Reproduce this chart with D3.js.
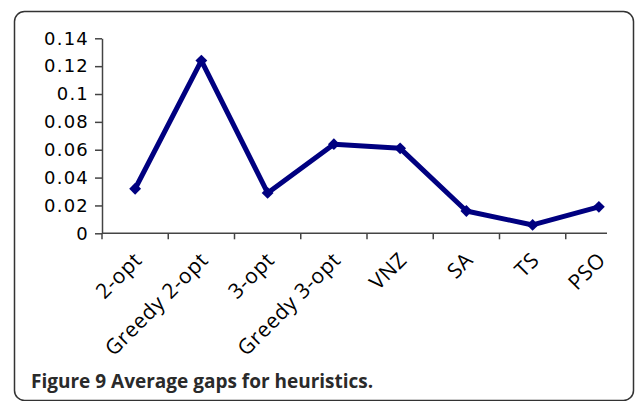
<!DOCTYPE html>
<html>
<head>
<meta charset="utf-8">
<script src="https://cdn.jsdelivr.net/npm/d3@7"></script>
<style>
  body { margin: 0; background: #fff; }
  svg { display: block; }
</style>
</head>
<body>
<div id="chart"><svg width="635" height="401"></svg></div>
<script>
// data
const heuristics = ["2-opt", "Greedy 2-opt", "3-opt", "Greedy 3-opt", "VNZ", "SA", "TS", "PSO"];
const avgGaps = [0.032, 0.124, 0.029, 0.064, 0.061, 0.016, 0.006, 0.019];
const yTicks = [0, 0.02, 0.04, 0.06, 0.08, 0.1, 0.12, 0.14];
const yTickLabels = ["0", "0.02", "0.04", "0.06", "0.08", "0.1", "0.12", "0.14"];
const caption = "Figure 9 Average gaps for heuristics.";

const data = heuristics.map((h, i) => ({name: h, gap: avgGaps[i]}));

const svg = d3.select("#chart").select("svg");

const plot = {left: 102, right: 632, top: 38.3, bottom: 233.3, axisEnd: 607};
const navy = "#000080";

// frame round the figure
svg.append("rect")
    .attr("x", 14.5)
    .attr("y", 11.5)
    .attr("width", 619)
    .attr("height", 389)
    .attr("rx", 10)
    .style("fill", "none")
    .style("stroke", "#333")
    .style("stroke-width", 1.5);

/***** scales *****/
const xScale = d3.scaleBand()
    .domain(heuristics)
    .range([plot.left, plot.right]);

const yScale = d3.scaleLinear()
    .domain([0, 0.14])
    .range([plot.bottom, plot.top]);

/***** y axis *****/
const yAxis = d3.axisLeft(yScale)
    .tickValues(yTicks)
    .tickFormat((d, i) => yTickLabels[i])
    .tickSize(7)
    .tickSizeOuter(0)
    .tickPadding(6);

svg.append("g")
    .attr("class", "yAxis")
    .attr("transform", `translate(${plot.left},0)`)
    .attr("font-family", "DejaVu Sans")
    .call(yAxis)
    .call(g => g.selectAll("line, path").style("stroke", "#444").style("stroke-width", 1.5))
    .selectAll("text")
    .attr("font-family", "DejaVu Sans")
    .style("font-size", "18px")
    .style("letter-spacing", "1.2px")
    .style("fill", "#000");

/***** x axis *****/
// tick marks sit on the band edges
const xAxis = d3.axisBottom(xScale)
    .tickSize(0)
    .tickPadding(0)
    .tickFormat("");

const xg = svg.append("g")
    .attr("class", "xAxis")
    .attr("transform", `translate(0,${plot.bottom})`)
    .call(xAxis);
xg.select(".domain").remove();

xg.append("line")
    .attr("x1", plot.left)
    .attr("x2", plot.axisEnd)
    .style("stroke", "#444")
    .style("stroke-width", 1.5);

xg.selectAll(".bandTick")
    .data(heuristics)
    .enter()
    .append("line")
    .attr("class", "bandTick")
    .attr("x1", d => xScale(d))
    .attr("x2", d => xScale(d))
    .attr("y1", 0)
    .attr("y2", 6)
    .style("stroke", "#444")
    .style("stroke-width", 1.5);

xg.selectAll(".xLabel")
    .data(heuristics)
    .enter()
    .append("text")
    .attr("class", "xLabel")
    .attr("transform", d => `translate(${xScale(d) + xScale.bandwidth() / 2 + 8},${28}) rotate(-45)`)
    .attr("text-anchor", "end")
    .style("font-family", "'Open Sans', sans-serif")
    .style("font-size", "21px")
    .style("letter-spacing", "0.6px")
    .style("fill", "#000")
    .text(d => d);

/***** line + markers *****/
const line = d3.line()
    .x(d => xScale(d.name) + xScale.bandwidth() / 2)
    .y(d => yScale(d.gap));

svg.append("path")
    .datum(data)
    .attr("d", line)
    .style("fill", "none")
    .style("stroke", navy)
    .style("stroke-width", 5)
    .style("stroke-linejoin", "round");

svg.selectAll(".marker")
    .data(data)
    .enter()
    .append("path")
    .attr("class", "marker")
    .attr("d", d3.symbol(d3.symbolSquare, 70))
    .attr("transform", d => `translate(${xScale(d.name) + xScale.bandwidth() / 2},${yScale(d.gap)}) rotate(45)`)
    .style("fill", navy);

/***** caption *****/
svg.append("text")
    .attr("x", 31)
    .attr("y", 388)
    .style("font-family", "'Open Sans', sans-serif")
    .style("font-size", "19px")
    .style("font-weight", "bold")
    .style("fill", "#2a2a2a")
    .text(caption);
</script>
</body>
</html>
